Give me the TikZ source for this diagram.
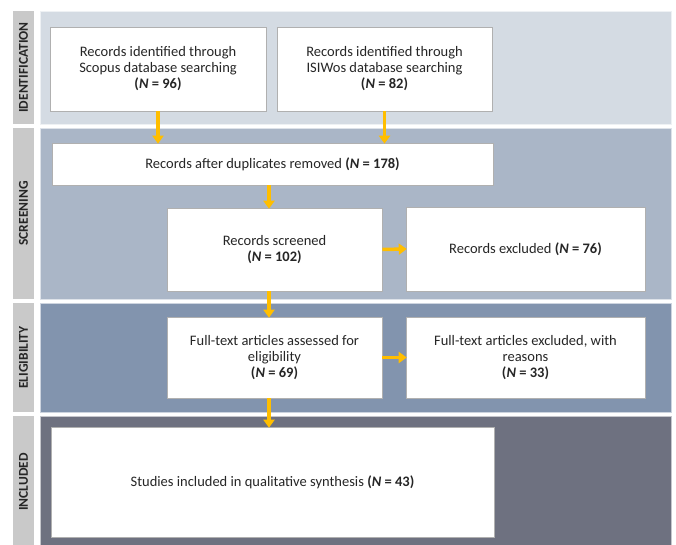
\documentclass[tikz,border=0pt]{standalone}
\usepackage{fontspec}
\setmainfont{Carlito}
\usetikzlibrary{arrows.meta}
\definecolor{pid}{HTML}{D4DBE3}
\definecolor{pscr}{HTML}{AAB6C7}
\definecolor{pel}{HTML}{8294AE}
\definecolor{pinc}{HTML}{6E7180}
\definecolor{sidebar}{HTML}{C9C9C9}
\definecolor{arrowc}{HTML}{FFBE00}
\definecolor{boxline}{HTML}{B0B0B0}
\begin{document}
\begin{tikzpicture}[x=1pt,y=-1pt,
  panel/.style={draw=white!60!#1, line width=0.8pt, fill=#1},
  side/.style={fill=sidebar, draw=none},
  sidelabel/.style={rotate=90, font=\fontsize{13.5}{14}\selectfont\bfseries, text=black!85},
  box/.style={draw=boxline, line width=0.6pt, fill=white, align=center, inner sep=2pt,
    font=\fontsize{14.5}{16}\selectfont, text=black!85},
  arr/.style={draw=arrowc, line width=3.5pt, -{Triangle[width=11pt,length=8pt]}, shorten >=-1pt}]
\useasboundingbox (0,0) rectangle (676,545);
\fill[white] (0,0) rectangle (676,545);
% panels
\path[panel=pid] (40,11) rectangle (671,124);
\path[panel=pscr] (40,128) rectangle (671,299);
\path[panel=pel] (40,303) rectangle (671,412);
\path[panel=pinc] (40,416) rectangle (671,548);
% side bars
\path[side] (13,11) rectangle (34,124);
\path[side] (13,128) rectangle (34,299);
\path[side] (13,303) rectangle (34,412);
\path[side] (13,416) rectangle (34,548);
\node[sidelabel] (lid) at (23.5,67.5) {IDENTIFICATION};
\node[sidelabel] (lscr) at (23.5,213.5) {SCREENING};
\node[sidelabel] (lel) at (23.5,357.5) {ELIGIBILITY};
\node[sidelabel] (linc) at (23.5,482) {INCLUDED};
% boxes
\node[box, minimum width=216pt, minimum height=84pt] (scopus) at (158,69)
  {Records identified through\\Scopus database searching\\\textbf{(\textit{N} = 96)}};
\node[box, minimum width=215pt, minimum height=84pt] (isi) at (384.5,69)
  {Records identified through\\ISIWos database searching\\\textbf{(\textit{N} = 82)}};
\node[box, minimum width=441pt, minimum height=42pt] (dup) at (272.5,164)
  {Records after duplicates removed \textbf{(\textit{N} = 178)}};
\node[box, minimum width=215pt, minimum height=83pt] (scr) at (274.5,249.5)
  {Records screened\\\textbf{(\textit{N} = 102)}};
\node[box, minimum width=239pt, minimum height=84pt] (exc) at (525.5,249)
  {Records excluded \textbf{(\textit{N} = 76)}};
\node[box, minimum width=215pt, minimum height=81pt] (ass) at (274.5,357.5)
  {Full-text articles assessed for\\eligibility\\\textbf{(\textit{N} = 69)}};
\node[box, minimum width=239pt, minimum height=81pt] (exr) at (525.5,357.5)
  {Full-text articles excluded, with\\reasons\\\textbf{(\textit{N} = 33)}};
\node[box, minimum width=443pt, minimum height=110pt] (inc) at (272.5,482)
  {Studies included in qualitative synthesis \textbf{(\textit{N} = 43)}};
% arrows
\coordinate (ax) at (269,0);
\draw[arr] (scopus.south) -- (scopus.south |- dup.north);
\draw[arr] (isi.south) -- (isi.south |- dup.north);
\draw[arr] (dup.south -| ax) -- (scr.north -| ax);
\draw[arr] (scr.east) -- (exc.west);
\draw[arr] (scr.south -| ax) -- (ass.north -| ax);
\draw[arr] (ass.east) -- (exr.west);
\draw[arr] (ass.south -| ax) -- (inc.north -| ax);
\end{tikzpicture}
\end{document}
